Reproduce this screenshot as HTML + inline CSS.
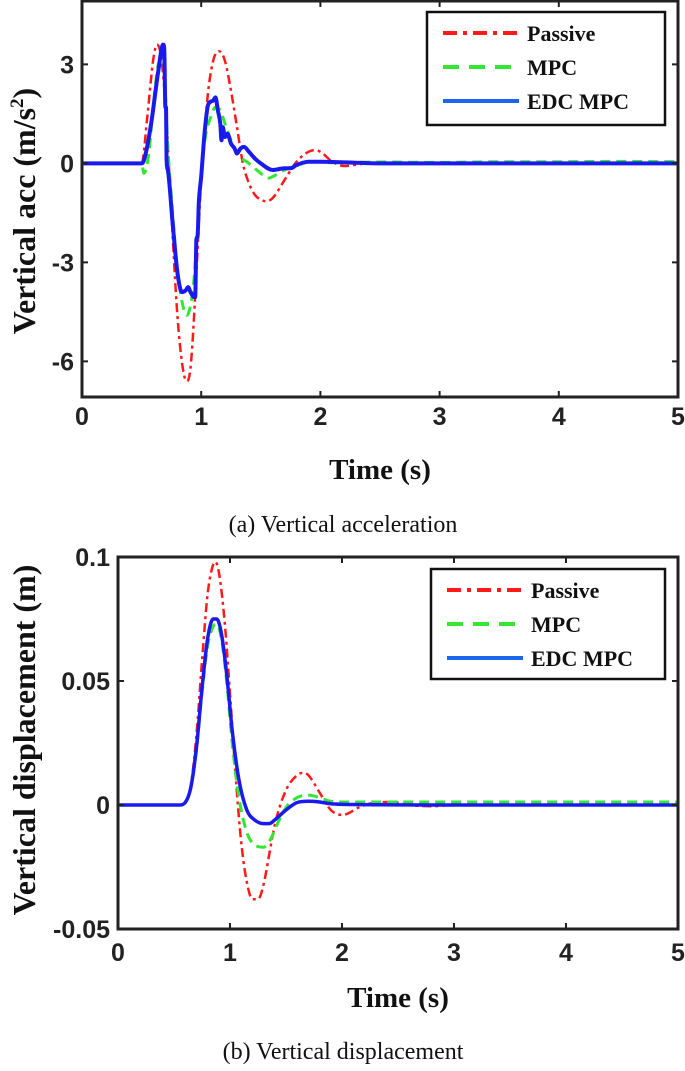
<!DOCTYPE html>
<html><head><meta charset="utf-8">
<style>
body{margin:0;background:#fff;}
svg{display:block;}
.tick{font-family:"Liberation Sans",sans-serif;font-weight:bold;font-size:25px;fill:#222;}
.lab{font-family:"Liberation Serif",serif;font-weight:bold;font-size:29px;fill:#111;}
.ylab{font-family:"Liberation Serif",serif;font-weight:bold;font-size:32px;fill:#111;}
.leg{font-family:"Liberation Serif",serif;font-weight:bold;font-size:22px;fill:#111;}
.cap{font-family:"Liberation Serif",serif;font-size:24px;fill:#111;}
</style></head>
<body>
<svg id="fig" width="685" height="1071" viewBox="0 0 685 1071">
<g id="chartA"></g>
<g id="chartB"></g>
<text class="cap" x="343" y="532" text-anchor="middle">(a) Vertical acceleration</text>
<text class="cap" x="343" y="1059" text-anchor="middle">(b) Vertical displacement</text>
</svg>
<script>
// ---- Chart A data (vertical acceleration) ----
const xTicks = [0,1,2,3,4,5];
const accTicks = [3,0,-3,-6];
const accTickLabels = ["3","0","-3","-6"];
const accPassiveT = [0,0.5,0.55,0.6,0.63,0.66,0.7,0.75,0.8,0.85,0.88,0.91,0.95,1.0,1.05,1.1,1.15,1.2,1.25,1.3,1.35,1.4,1.45,1.5,1.55,1.6,1.7,1.8,1.9,1.95,2.0,2.1,2.2,2.4,5];
const accPassiveV = [0,0,1.5,3.2,3.6,3.3,1.8,-1.5,-4.6,-6.3,-6.6,-6.2,-4.0,-0.5,1.9,3.1,3.4,3.1,2.2,1.1,0.0,-0.6,-0.95,-1.1,-1.15,-1.05,-0.5,0.05,0.35,0.4,0.35,0.05,-0.08,0,0];
const accMpcT = [0,0.5,0.52,0.56,0.6,0.64,0.68,0.72,0.76,0.8,0.84,0.88,0.91,0.94,0.97,1.0,1.04,1.08,1.12,1.16,1.2,1.25,1.3,1.4,1.5,1.56,1.6,1.7,1.8,1.95,2.1,2.5,3,3.5,4,4.5,5];
const accMpcV = [0,0,-0.3,0.3,1.8,3.0,3.2,0.5,-1.5,-3.2,-4.2,-4.6,-4.3,-3.5,-2.0,-0.3,0.9,1.4,1.7,1.6,1.2,0.7,0.3,0,-0.3,-0.45,-0.4,-0.2,-0.05,0.05,0.02,0.04,0.03,0.05,0.05,0.06,0.05];
const accEdcT = [0,0.5,0.52,0.58,0.64,0.68,0.69,0.7,0.705,0.71,0.72,0.76,0.8,0.84,0.87,0.89,0.91,0.94,0.95,0.96,0.97,0.98,1.0,1.03,1.06,1.1,1.12,1.14,1.16,1.17,1.18,1.2,1.22,1.25,1.28,1.3,1.33,1.36,1.4,1.45,1.5,1.6,1.7,1.75,1.8,1.9,2.0,2.5,3,4,5];
const accEdcV = [0,0,0.1,1.2,2.8,3.6,3.5,1.7,1.7,0.1,-0.2,-1.8,-3.3,-3.9,-3.85,-3.75,-3.9,-4.05,-4.05,-2.3,-2.2,-1.2,-0.4,1.0,1.8,1.9,2.0,1.6,1.2,0.7,1.1,0.8,0.9,0.6,0.45,0.3,0.45,0.5,0.35,0.15,0.0,-0.2,-0.15,-0.15,-0.05,0.05,0.05,0,0,0,0];

// ---- Chart B data (vertical displacement) ----
const dispTicks = [0.1,0.05,0,-0.05];
const dispTickLabels = ["0.1","0.05","0","-0.05"];
const dPassiveT = [0,0.55,0.6,0.65,0.7,0.75,0.8,0.85,0.87,0.9,0.95,1.0,1.05,1.1,1.15,1.2,1.25,1.3,1.35,1.4,1.5,1.6,1.65,1.7,1.8,1.9,2.0,2.05,2.15,2.3,2.45,2.6,2.8,3.0,5];
const dPassiveV = [0,0,0.001,0.008,0.028,0.058,0.085,0.097,0.098,0.094,0.075,0.045,0.012,-0.015,-0.031,-0.038,-0.038,-0.032,-0.02,-0.008,0.006,0.012,0.013,0.012,0.005,-0.002,-0.004,-0.0035,-0.001,0.001,0.0012,0.0,-0.0005,0,0];
const dMpcT = [0,0.55,0.6,0.65,0.7,0.75,0.8,0.85,0.88,0.92,0.97,1.02,1.08,1.15,1.22,1.3,1.36,1.42,1.5,1.6,1.7,1.8,1.9,2.1,2.5,3,5];
const dMpcV = [0,0,0.001,0.007,0.022,0.045,0.064,0.072,0.073,0.068,0.05,0.025,0.003,-0.011,-0.016,-0.017,-0.014,-0.008,-0.001,0.003,0.004,0.003,0.0015,0.0012,0.0012,0.0012,0.0012];
const dEdcT = [0,0.55,0.6,0.65,0.7,0.75,0.8,0.85,0.88,0.92,0.97,1.02,1.08,1.15,1.22,1.3,1.35,1.4,1.5,1.6,1.7,1.8,1.9,2.1,3,5];
const dEdcV = [0,0,0.001,0.007,0.023,0.047,0.067,0.075,0.075,0.07,0.053,0.03,0.01,-0.002,-0.006,-0.0075,-0.0075,-0.006,-0.002,0.001,0.0015,0.0012,0.0005,0.0002,0,0];

const NS='http://www.w3.org/2000/svg';
function mk(tag,attrs,parent){const e=document.createElementNS(NS,tag);for(const k in attrs)e.setAttribute(k,attrs[k]);parent.appendChild(e);return e;}
function path(T,V,sx,sy){
  const x=T.map(sx),y=V.map(sy),n=x.length;
  const d=[],m=new Array(n);
  for(let i=0;i<n-1;i++)d.push((y[i+1]-y[i])/(x[i+1]-x[i]||1e-6));
  m[0]=d[0];m[n-1]=d[n-2];
  for(let i=1;i<n-1;i++){ if(d[i-1]*d[i]<=0)m[i]=0; else m[i]=(d[i-1]+d[i])/2; }
  for(let i=0;i<n-1;i++){
    if(d[i]===0){m[i]=0;m[i+1]=0;continue;}
    const a=m[i]/d[i],b=m[i+1]/d[i],s=a*a+b*b;
    if(s>9){const t=3/Math.sqrt(s);m[i]=t*a*d[i];m[i+1]=t*b*d[i];}
  }
  let p='M'+x[0].toFixed(1)+','+y[0].toFixed(1);
  for(let i=0;i<n-1;i++){
    const h=(x[i+1]-x[i])/3;
    p+=' C'+(x[i]+h).toFixed(1)+','+(y[i]+m[i]*h).toFixed(1)+' '+(x[i+1]-h).toFixed(1)+','+(y[i+1]-m[i+1]*h).toFixed(1)+' '+x[i+1].toFixed(1)+','+y[i+1].toFixed(1);
  }
  return p;
}
function drawChart(g,cfg){
  const {L,R,T,B,ymin,ymax,yt,ytl,series,legend,ylabel,ylabX,xlabY,tickY}=cfg;
  const sx=t=>L+(t/5)*(R-L);
  const sy=v=>B-(v-ymin)/(ymax-ymin)*(B-T);
  const clipId='clip'+g.id;
  const cp=mk('clipPath',{id:clipId},g);mk('rect',{x:L,y:T,width:R-L,height:B-T},cp);
  series.forEach(s=>{
    const p=mk('path',{d:path(s.t,s.v,sx,sy),fill:'none',stroke:s.c,'stroke-width':s.w,'stroke-dasharray':s.dash||'','clip-path':'url(#'+clipId+')','stroke-linejoin':'round'},g);
    
    
  });
  mk('rect',{x:L,y:T,width:R-L,height:B-T,fill:'none',stroke:'#222','stroke-width':3},g);
  xTicks.forEach(t=>{
    mk('line',{x1:sx(t),x2:sx(t),y1:B,y2:B-6,stroke:'#222','stroke-width':2},g);
    mk('line',{x1:sx(t),x2:sx(t),y1:T,y2:T+6,stroke:'#222','stroke-width':2},g);
    const tx=mk('text',{x:sx(t),y:tickY,'text-anchor':'middle',class:'tick'},g);tx.textContent=String(t);
    
    
  });
  yt.forEach((v,i)=>{
    mk('line',{x1:L,x2:L+6,y1:sy(v),y2:sy(v),stroke:'#222','stroke-width':2},g);
    mk('line',{x1:R,x2:R-6,y1:sy(v),y2:sy(v),stroke:'#222','stroke-width':2},g);
    const tx=mk('text',{x:L-8,y:sy(v)+9,'text-anchor':'end',class:'tick'},g);tx.textContent=ytl[i];
    
    
  });
  const xl=mk('text',{x:(L+R)/2,y:xlabY,'text-anchor':'middle',class:'lab'},g);xl.textContent='Time (s)';
  
  
  const yl=mk('text',{x:0,y:0,'text-anchor':'middle',class:'ylab',transform:'translate('+ylabX+','+cfg.ylabY+') rotate(-90)'},g);
  yl.innerHTML=ylabel;
  
  
  const lg=mk('g',{},g);
  
  
  mk('rect',{x:legend.x,y:legend.y,width:legend.w,height:legend.h,fill:'#fff',stroke:'#111','stroke-width':2.5},lg);
  series.forEach((s,i)=>{
    const yy=legend.y+21+i*34;
    mk('line',{x1:legend.x+16,x2:legend.x+92,y1:yy,y2:yy,stroke:s.lc||s.c,'stroke-width':4,'stroke-dasharray':s.ldash||s.dash||''},lg);
    const t=mk('text',{x:legend.x+100,y:yy+8,class:'leg'},lg);t.textContent=s.label;
    
    
  });
}
drawChart(document.getElementById('chartA'),{
  L:82,R:678,T:1,B:397,ymin:-7.08,ymax:4.92,yt:accTicks,ytl:accTickLabels,tickY:425,xlabY:479,ylabX:35,ylabY:211,
  ylabel:'Vertical acc (m/s<tspan dy="-12" font-size="19">2</tspan><tspan dy="12">)</tspan>',
  legend:{x:427,y:12,w:238,h:113},
  series:[
    {name:'passive-line',label:'Passive',t:accPassiveT,v:accPassiveV,c:'#ff1a1a',w:2.5,dash:'9 4 3 4',ldash:'14 6 4 6'},
    {name:'mpc-line',label:'MPC',t:accMpcT,v:accMpcV,c:'#33e633',w:3,dash:'10 6',ldash:'16 10'},
    {name:'edc-mpc-line',label:'EDC MPC',t:accEdcT,v:accEdcV,c:'#1a1aee',lc:'#1a66ee',w:4}
  ]
});
drawChart(document.getElementById('chartB'),{
  L:118,R:678,T:557,B:929,ymin:-0.05,ymax:0.1,yt:dispTicks,ytl:dispTickLabels,tickY:961,xlabY:1007,ylabX:35,ylabY:740,
  ylabel:'Vertical displacement (m)',
  legend:{x:431,y:569,w:234,h:110},
  series:[
    {name:'passive-line',label:'Passive',t:dPassiveT,v:dPassiveV,c:'#ff1a1a',w:2.5,dash:'9 4 3 4',ldash:'14 6 4 6'},
    {name:'mpc-line',label:'MPC',t:dMpcT,v:dMpcV,c:'#33e633',w:3,dash:'10 6',ldash:'16 10'},
    {name:'edc-mpc-line',label:'EDC MPC',t:dEdcT,v:dEdcV,c:'#1a1aee',lc:'#1a66ee',w:3.5}
  ]
});
</script>
</body></html>
